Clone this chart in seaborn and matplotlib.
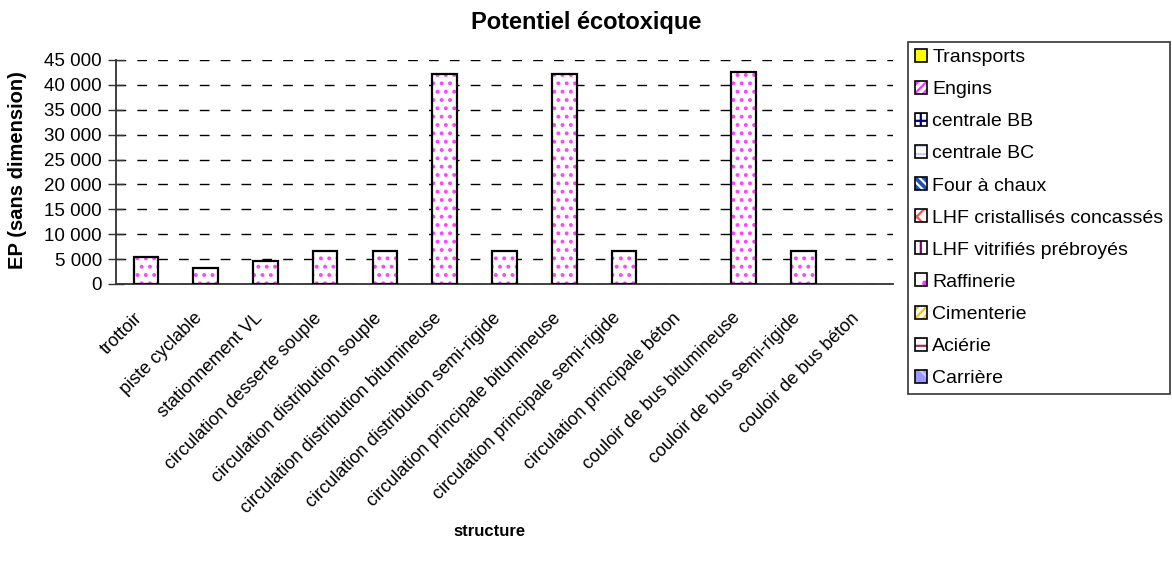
import numpy as np
import pandas as pd
import seaborn as sns
import matplotlib.pyplot as plt
from matplotlib.patches import Patch
from matplotlib.ticker import FuncFormatter
from matplotlib.transforms import ScaledTranslation

structures = [
    "trottoir",
    "piste cyclable",
    "stationnement VL",
    "circulation desserte souple",
    "circulation distribution souple",
    "circulation distribution bitumineuse",
    "circulation distribution semi-rigide",
    "circulation principale bitumineuse",
    "circulation principale semi-rigide",
    "circulation principale béton",
    "couloir de bus bitumineuse",
    "couloir de bus semi-rigide",
    "couloir de bus béton",
]

# seule la série "Engins" est visible sur le graphique
engins = [5500, 3300, 4600, 6700, 6700, 42200, 6700, 42200, 6700, 0, 42500, 6700, 0]

series = ["Transports", "Engins", "centrale BB", "centrale BC", "Four à chaux",
          "LHF cristallisés concassés", "LHF vitrifiés prébroyés", "Raffinerie",
          "Cimenterie", "Aciérie", "Carrière"]

df = pd.DataFrame({"structure": structures, "Engins": engins})

sns.set_style("white")
plt.rcParams["font.family"] = ["Liberation Sans", "DejaVu Sans"]
plt.rcParams["text.color"] = "black"
plt.rcParams["xtick.color"] = "black"
plt.rcParams["ytick.color"] = "black"
plt.rcParams["hatch.linewidth"] = 1.6

fig = plt.figure(figsize=(11.72, 5.63), dpi=100)
ax = fig.add_axes([116 / 1172, 1 - 284 / 563, (893 - 116) / 1172, (284 - 60) / 563])

# remplissage pointillé magenta puis contour noir
sns.barplot(data=df, x="structure", y="Engins", color="white", saturation=1,
            edgecolor="#ff44ff", hatch="..", linewidth=0, width=0.41,
            errorbar=None, ax=ax, zorder=3)
sns.barplot(data=df[df["Engins"] > 0], x="structure", y="Engins", fill=False,
            edgecolor="black", linewidth=1.6, width=0.41, errorbar=None,
            order=structures, ax=ax, zorder=4)

ax.set_xlim(-0.5, len(structures) - 0.5)
ax.set_ylim(0, 45000)
ax.set_yticks(np.arange(0, 45001, 5000))
ax.yaxis.set_major_formatter(FuncFormatter(lambda v, p: f"{int(v):,}".replace(",", " ")))
ax.grid(axis="y", color="black", linestyle=(0, (7, 8)), linewidth=1, zorder=0)
ax.set_axisbelow(True)

ax.set_xticks(range(len(structures)))
ax.set_xticklabels(structures, rotation=45, ha="right", rotation_mode="anchor", fontsize=13)
ax.set_xticks(np.arange(-0.5, len(structures), 1), minor=True)
ax.tick_params(axis="x", which="major", length=0, pad=9)
ax.tick_params(axis="x", which="minor", length=6, width=1, color="#333333", direction="out")
ax.tick_params(axis="y", length=12, width=1, direction="inout", labelsize=13.5, pad=4, color="#333333")
ax.tick_params(bottom=True, left=True)

for s in ["top", "right"]:
    ax.spines[s].set_visible(False)
for s in ["left", "bottom"]:
    ax.spines[s].set_color("#333333")
    ax.spines[s].set_linewidth(1.3)

ax.set_xlabel("")
ax.set_ylabel("")
fig.text(586 / 1172, 1 - 22 / 563, "Potentiel écotoxique", ha="center", va="center",
         fontsize=17, fontweight="bold")
fig.text(18 / 1172, 1 - 170 / 563, "EP (sans dimension)", ha="center", va="center",
         rotation=90, fontsize=14.5, fontweight="bold")
fig.text(490 / 1172, 1 - 532 / 563, "structure", ha="center", va="center",
         fontsize=12, fontweight="bold")

styles = [
    ("#ffff00", "#ffff00", ""),
    ("white", "#ff33ff", "////"),
    ("white", "#000080", "++"),
    ("white", "#ccccff", "--"),
    ("#1c4fb8", "white", "\\\\\\\\"),
    ("white", "#ff5050", "xx"),
    ("white", "#800080", "||"),
    ("white", "#ff33ff", "."),
    ("#ffffff", "#ffc000", "////"),
    ("white", "#993366", "--"),
    ("#9999ff", "#ccccff", "\\\\"),
]
handles = []
for fc, hc, h in styles:
    handles.append((Patch(facecolor=fc, edgecolor=hc, hatch=h, linewidth=0),
                    Patch(fill=False, edgecolor="black", linewidth=1.2)))

leg = fig.legend(handles, series, loc="upper left",
                 bbox_to_anchor=(908 / 1172, 1 - 42 / 563), borderaxespad=0,
                 fontsize=14, frameon=True, fancybox=False, edgecolor="black",
                 handlelength=0.65, handleheight=0.65, handletextpad=0.25,
                 labelspacing=0.76, borderpad=0.35)
leg.get_frame().set_linewidth(1.2)

# décalage des étiquettes inclinées (après tous les tick_params)
offset = ScaledTranslation(-12 / 100, -13 / 100, fig.dpi_scale_trans)
for lab in ax.get_xticklabels():
    lab.set_transform(lab.get_transform() + offset)

fig.savefig("out.png", dpi=100)
